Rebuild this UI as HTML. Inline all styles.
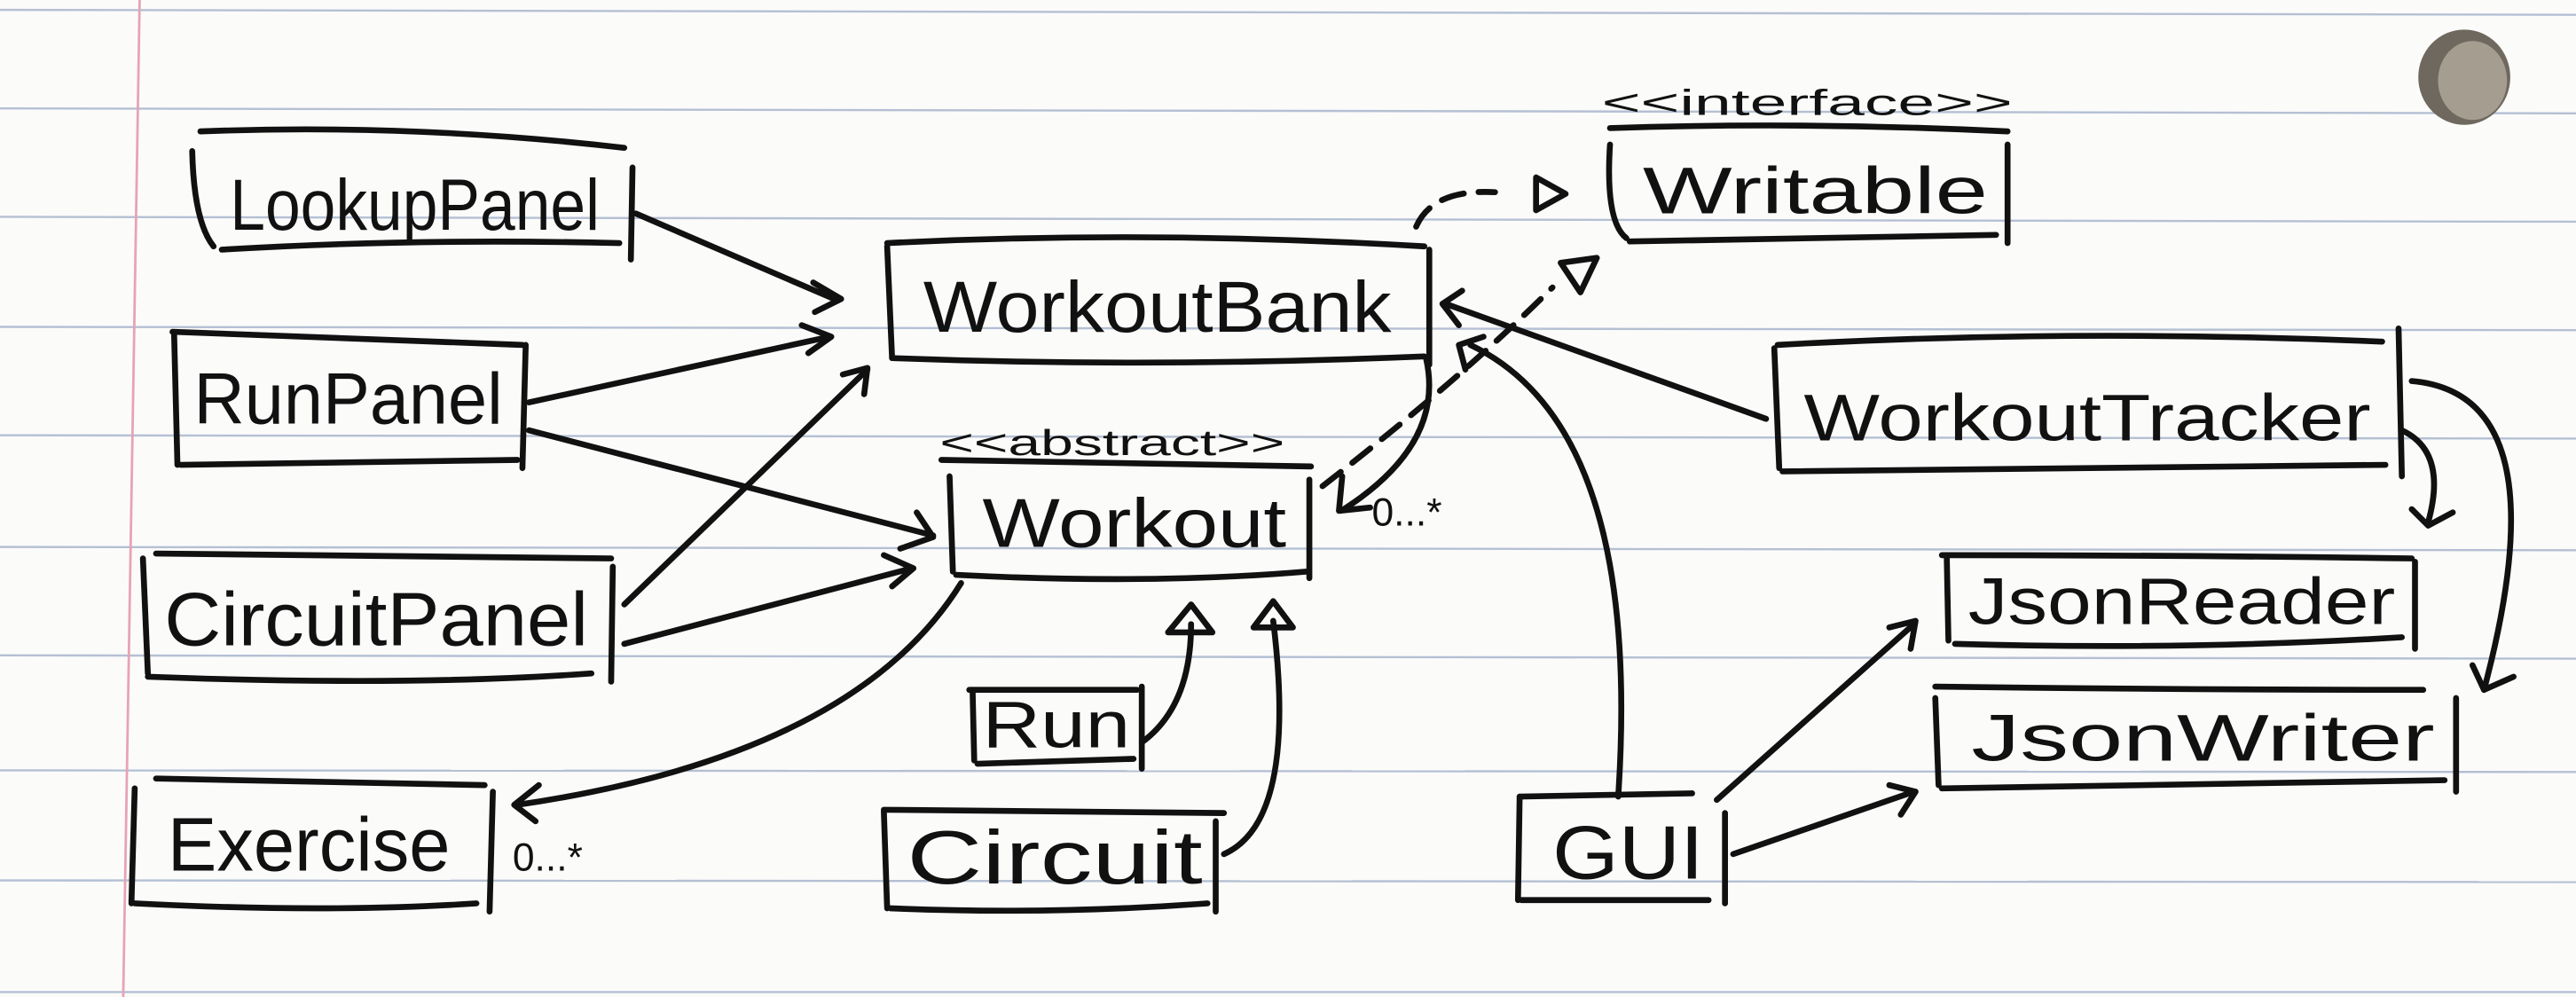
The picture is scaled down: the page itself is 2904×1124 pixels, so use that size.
<!DOCTYPE html>
<html><head><meta charset="utf-8"><style>
html,body{margin:0;padding:0;background:#fbfbfa;}
svg{display:block;}
text{font-family:"Liberation Sans",sans-serif;fill:#111;}
</style></head><body>
<svg width="2904" height="1124" viewBox="0 0 1568 607" preserveAspectRatio="none" xmlns="http://www.w3.org/2000/svg">
<rect width="1568" height="607" fill="#fbfbfa"/>
<g stroke="#b4c0d3" stroke-width="1.3">
<line x1="0" y1="6" x2="1568" y2="9"/>
<line x1="0" y1="66" x2="1568" y2="69"/>
<line x1="0" y1="132" x2="1568" y2="135"/>
<line x1="0" y1="199" x2="1568" y2="201"/>
<line x1="0" y1="265" x2="1568" y2="267"/>
<line x1="0" y1="333" x2="1568" y2="335"/>
<line x1="0" y1="399" x2="1568" y2="401"/>
<line x1="0" y1="469" x2="1568" y2="470"/>
<line x1="0" y1="536" x2="1568" y2="537"/>
<line x1="0" y1="604" x2="1568" y2="604"/>
</g>
<line x1="85" y1="0" x2="75" y2="607" stroke="#e7a3b5" stroke-width="1.5"/>
<ellipse cx="1500" cy="47" rx="28" ry="29" fill="#6f685e"/>
<ellipse cx="1505" cy="49" rx="21" ry="24" fill="#a59d90"/>

<g fill="none" stroke="#111" stroke-width="3.6" stroke-linecap="round" stroke-linejoin="round">
<path d="M122 80 Q250 75 380 90"/><path d="M117 92 Q118 135 130 150"/><path d="M135 152 Q250 145 377 148"/><path d="M385 102 L384 158"/>
<path d="M105 202 L318 210"/><path d="M106 204 L108 283"/><path d="M110 283 L315 280"/><path d="M320 210 L318 285"/>
<path d="M95 337 L372 340"/><path d="M87 340 L90 410"/><path d="M90 412 Q250 418 360 410"/><path d="M373 345 L372 415"/>
<path d="M95 474 L295 478"/><path d="M82 480 L80 550"/><path d="M82 550 Q200 556 290 550"/><path d="M300 482 L298 555"/>
<path d="M540 148 Q700 140 867 150"/><path d="M540 150 L543 218"/><path d="M543 218 Q700 224 867 217"/><path d="M870 152 L870 222"/>
<path d="M573 280 L798 284"/><path d="M578 290 L580 348"/><path d="M582 350 Q700 356 795 348"/><path d="M797 292 L797 352"/>
<path d="M590 420 L692 420"/><path d="M592 420 L593 463"/><path d="M595 465 L690 462"/><path d="M695 418 L695 468"/>
<path d="M538 493 L745 495"/><path d="M538 494 L540 553"/><path d="M542 553 Q640 557 735 550"/><path d="M740 500 L740 555"/>
<path d="M980 78 Q1100 74 1222 80"/><path d="M980 88 Q977 135 990 145"/><path d="M992 147 Q1100 145 1215 143"/><path d="M1222 88 L1222 148"/>
<path d="M1082 210 Q1260 200 1450 208"/><path d="M1080 212 L1083 285"/><path d="M1085 287 Q1260 285 1452 283"/><path d="M1460 200 L1462 290"/>
<path d="M1182 338 Q1330 338 1468 340"/><path d="M1185 340 L1186 390"/><path d="M1190 392 Q1330 396 1462 388"/><path d="M1470 342 L1470 395"/>
<path d="M1178 418 Q1330 420 1475 420"/><path d="M1178 425 L1180 478"/><path d="M1182 480 Q1330 478 1488 475"/><path d="M1495 425 L1495 482"/>
<path d="M925 485 L1030 483"/><path d="M925 485 L924 548"/><path d="M926 548 L1040 548"/><path d="M1050 495 L1050 550"/>

<path d="M387 130 L510 183"/><path d="M495 172 L512 182 L496 190"/>
<path d="M322 245 L505 205"/><path d="M488 198 L506 205 L492 215"/>
<path d="M380 368 L528 225"/><path d="M513 228 L528 224 L526 240"/>
<path d="M322 262 L568 326"/><path d="M548 334 L568 327 L558 312"/>
<path d="M380 392 L555 346"/><path d="M538 338 L556 346 L543 357"/>
<path d="M585 355 Q520 460 315 490"/><path d="M328 478 L313 490 L326 500"/>
<path d="M695 452 Q725 430 725 380"/><path d="M711 385 L725 368 L738 385 Z"/>
<path d="M745 520 Q790 500 775 378"/><path d="M763 382 L775 366 L787 382 Z"/>
<path d="M862 138 Q872 115 910 117" stroke-dasharray="14 9"/><path d="M935 108 L953 118 L935 128 Z"/>
<path d="M805 296 Q890 230 945 175" stroke-dasharray="14 9"/><path d="M950 160 L972 157 L962 178 Z"/>
<path d="M868 218 Q880 270 818 310"/><path d="M817 290 L815 311 L834 309"/>
<path d="M1075 255 L880 185"/><path d="M890 177 L878 185 L888 198"/>
<path d="M985 485 Q1000 260 895 210"/><path d="M892 225 L888 210 L903 205"/>
<path d="M1045 487 L1165 380"/><path d="M1150 382 L1166 378 L1163 395"/>
<path d="M1055 520 L1165 482"/><path d="M1150 478 L1166 482 L1157 496"/>
<path d="M1462 262 Q1490 275 1478 318"/><path d="M1468 310 L1478 320 L1493 312"/>
<path d="M1468 232 Q1560 240 1512 420"/><path d="M1505 405 L1512 420 L1530 412"/>
</g>

<text x="140" y="140" font-size="44" textLength="225" lengthAdjust="spacingAndGlyphs">LookupPanel</text>
<text x="118" y="258" font-size="44" textLength="188" lengthAdjust="spacingAndGlyphs">RunPanel</text>
<text x="100" y="393" font-size="46" textLength="258" lengthAdjust="spacingAndGlyphs">CircuitPanel</text>
<text x="102" y="530" font-size="46" textLength="172" lengthAdjust="spacingAndGlyphs">Exercise</text>
<text x="562" y="202" font-size="44" textLength="285" lengthAdjust="spacingAndGlyphs">WorkoutBank</text>
<text x="572" y="277" font-size="22" textLength="210" lengthAdjust="spacingAndGlyphs">&lt;&lt;abstract&gt;&gt;</text>
<text x="598" y="333" font-size="42" textLength="185" lengthAdjust="spacingAndGlyphs">Workout</text>
<text x="598" y="455" font-size="40" textLength="90" lengthAdjust="spacingAndGlyphs">Run</text>
<text x="552" y="538" font-size="46" textLength="180" lengthAdjust="spacingAndGlyphs">Circuit</text>
<text x="975" y="70" font-size="22" textLength="250" lengthAdjust="spacingAndGlyphs">&lt;&lt;interface&gt;&gt;</text>
<text x="1000" y="130" font-size="40" textLength="210" lengthAdjust="spacingAndGlyphs">Writable</text>
<text x="1098" y="268" font-size="40" textLength="345" lengthAdjust="spacingAndGlyphs">WorkoutTracker</text>
<text x="1198" y="380" font-size="40" textLength="260" lengthAdjust="spacingAndGlyphs">JsonReader</text>
<text x="1200" y="463" font-size="40" textLength="282" lengthAdjust="spacingAndGlyphs">JsonWriter</text>
<text x="945" y="535" font-size="46" textLength="92" lengthAdjust="spacingAndGlyphs">GUI</text>
<text x="312" y="530" font-size="24">0...*</text>
<text x="835" y="320" font-size="24">0...*</text>
</svg>
</body></html>
